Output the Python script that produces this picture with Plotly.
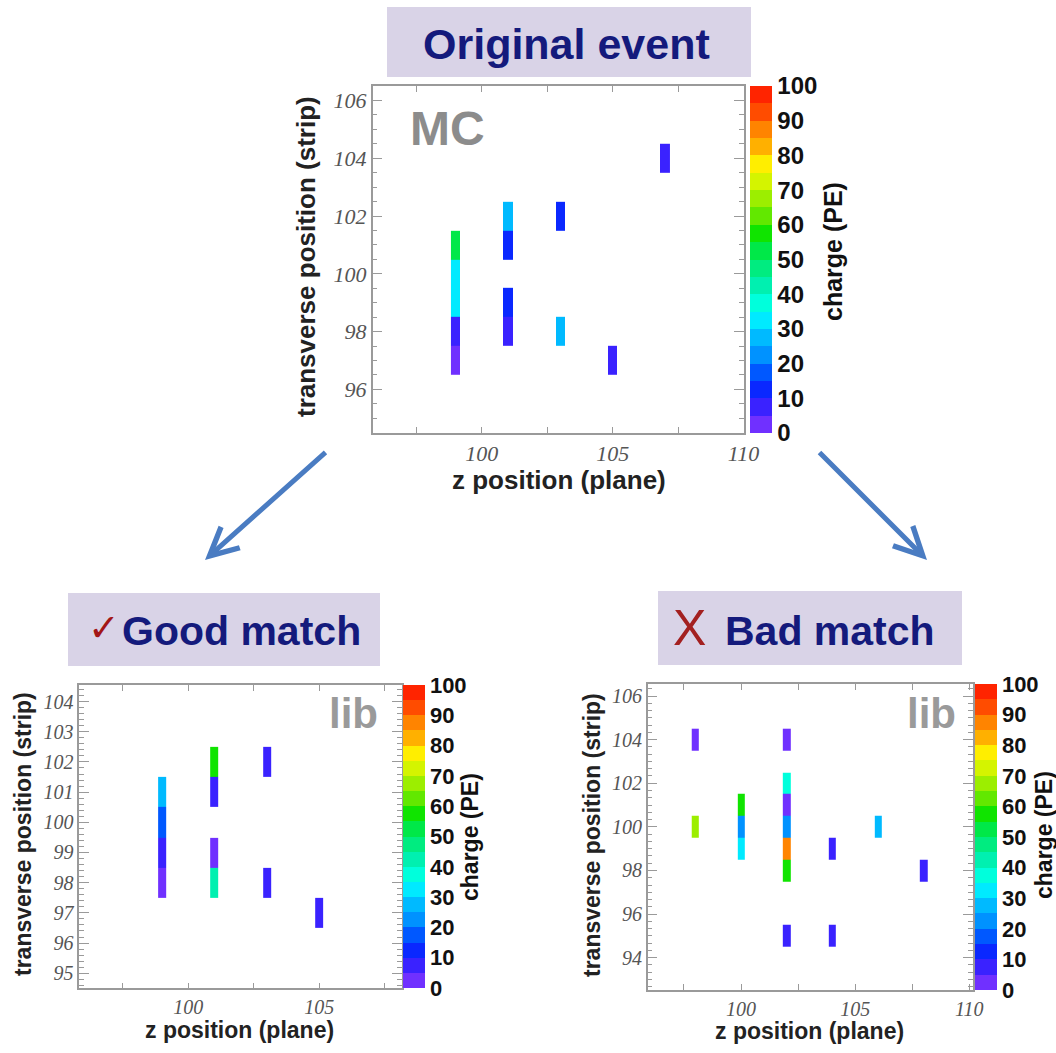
import numpy as np
import plotly.graph_objects as go

W, H = 1056, 1053

# ---- event data: (plane, strip, charge in PE) ----
mc_plane = [99, 99, 99, 99, 99, 101, 101, 101, 101, 103, 103, 105, 107]
mc_strip = [101, 100, 99, 98, 97, 102, 101, 99, 98, 102, 98, 97, 104]
mc_charge = [55, 32, 32, 7, 3, 27, 13, 13, 7, 14, 27, 7, 7]

good_plane = [99, 99, 99, 99, 101, 101, 101, 101, 103, 103, 105]
good_strip = [101, 100, 99, 98, 102, 101, 99, 98, 102, 98, 97]
good_charge = [27, 17, 8, 3, 57, 8, 3, 43, 8, 8, 8]

bad_plane = [98, 98, 100, 100, 100, 102, 102, 102, 102, 102, 102, 102, 104, 104, 106, 108]
bad_strip = [104, 100, 101, 100, 99, 104, 102, 101, 100, 99, 98, 95, 99, 95, 100, 98]
bad_charge = [3, 68, 57, 22, 33, 3, 38, 3, 22, 87, 56, 8, 8, 8, 27, 8]

charge_ticks = list(range(0, 101, 10))

# ROOT-like rainbow palette, 20 contour levels over 0..100 PE
palette = ["#7030ff", "#3a22ff", "#0a28ff", "#0058ff", "#0092ff",
           "#00baff", "#00eaff", "#00ffdc", "#00f0b0", "#00ec80",
           "#00e848", "#10e400", "#62e800", "#9cee00", "#d4f400",
           "#ffee00", "#ffb000", "#ff8400", "#ff4c00", "#ff2400"]
colorscale = []
for i, c in enumerate(palette):
    colorscale.append([i / 20, c])
    colorscale.append([(i + 1) / 20, c])


def px_x(px):
    return px / W


def px_y(py):
    return 1 - py / H


def cell_grid(planes, strips, charges, width):
    """Build bin edges and a charge matrix for one event display."""
    up = sorted(set(planes))
    xe = []
    for p in up:
        xe += [p - width / 2, p + width / 2]
    s_lo, s_hi = min(strips), max(strips)
    ye = [s - 0.5 for s in range(s_lo, s_hi + 2)]
    z = np.full((s_hi - s_lo + 1, 2 * len(up) - 1), np.nan)
    for p, s, q in zip(planes, strips, charges):
        z[s - s_lo, 2 * up.index(p)] = q
    return xe, ye, z


fig = go.Figure()

panels = [
    # name, data, x domain(px), y domain(px), xrange, yrange, y dtick, y minor, cbar(x, top, bottom), sizes
    dict(key="", data=(mc_plane, mc_strip, mc_charge), xd=(372.7, 743.5), yd=(86, 432.7),
         xr=[95.83, 110], yr=[94.5, 106.5], ydt=2, ymin=0.5, cb=(750, 86, 433),
         tick=22, cbt=24, w=0.36),
    dict(key="2", data=(good_plane, good_strip, good_charge), xd=(79.3, 401.7), yd=(685, 988.3),
         xr=[95.84, 108.15], yr=[94.5, 104.55], ydt=1, ymin=0.2, cb=(403, 685, 988),
         tick=20, cbt=22, w=0.3),
    dict(key="3", data=(bad_plane, bad_strip, bad_charge), xd=(647.7, 972.7), yd=(684, 990),
         xr=[95.91, 110.15], yr=[92.52, 106.55], ydt=2, ymin=1 / 3, cb=(975, 684, 990),
         tick=20, cbt=22, w=0.32),
]

frame_col = "#9a9a9a"
tick_font = dict(family="Liberation Serif", style="italic", color="#555555")

layout_axes = {}
for pn in panels:
    k = pn["key"]
    xe, ye, z = cell_grid(*pn["data"], pn["w"])
    cbx, cbt, cbb = pn["cb"]
    fig.add_trace(go.Heatmap(
        x=xe, y=ye, z=z, zmin=0, zmax=100, colorscale=colorscale,
        zsmooth=False, hoverinfo="skip",
        xaxis="x" + k, yaxis="y" + k,
        colorbar=dict(
            x=px_x(cbx), xanchor="left", xpad=0, thickness=22,
            y=px_y(cbt), yanchor="top", ypad=0, len=(cbb - cbt) / H, lenmode="fraction",
            outlinewidth=0, ticks="", tickmode="array", tickvals=charge_ticks,
            tickfont=dict(family="Liberation Sans", size=pn["cbt"], color="#111111", weight="bold"),
        ),
    ))
    common = dict(showgrid=False, zeroline=False, showline=True, linecolor=frame_col,
                  linewidth=1.5, mirror="allticks", ticks="inside", tickcolor=frame_col,
                  tickwidth=1.2, tickfont=dict(size=pn["tick"], **tick_font))
    layout_axes["xaxis" + k] = dict(
        domain=[px_x(pn["xd"][0]), px_x(pn["xd"][1])], range=pn["xr"],
        anchor="y" + k, tickmode="array", tickvals=[100, 105, 110], ticklen=6,
        minor=dict(tickmode="linear", tick0=0, dtick=2.5, ticks="inside", ticklen=6,
                   tickcolor=frame_col),
        **common)
    layout_axes["yaxis" + k] = dict(
        domain=[px_y(pn["yd"][1]), px_y(pn["yd"][0])], range=pn["yr"],
        anchor="x" + k, tickmode="linear", tick0=0, dtick=pn["ydt"], ticklen=10,
        minor=dict(tickmode="linear", tick0=0, dtick=pn["ymin"], ticks="inside", ticklen=5,
                   tickcolor=frame_col),
        **common)

fig.update_layout(**layout_axes)

annotations = []
shapes = []


def text(x, y, s, size, color="#222222", bold=True, angle=0, family="Liberation Sans",
         xanchor="center"):
    annotations.append(dict(
        x=px_x(x), y=px_y(y), xref="paper", yref="paper", text=s, showarrow=False,
        textangle=angle, xanchor=xanchor, yanchor="middle",
        font=dict(family=family, size=size, color=color, weight="bold" if bold else "normal"),
    ))


# axis titles
text(306, 257, "transverse position (strip)", 26, angle=-90)
text(559, 480, "z position (plane)", 26)
text(23, 834, "transverse position (strip)", 23, angle=-90)
text(239, 1030, "z position (plane)", 23)
text(592, 835, "transverse position (strip)", 23, angle=-90)
text(809, 1031, "z position (plane)", 23)

# colour bar titles
text(833, 252, "charge (PE)", 25, color="#111111", angle=-90)
text(470, 837, "charge (PE)", 23, color="#111111", angle=-90)
text(1044, 835, "charge (PE)", 23, color="#111111", angle=-90)

# sample labels inside the frames
text(408, 128, "MC", 48, color="#8c8c8c", xanchor="left")
text(327, 713, "lib", 42, color="#9a9a9a", xanchor="left")
text(905, 713, "lib", 42, color="#9a9a9a", xanchor="left")

# header boxes
box_fill = "#d9d3e7"
for x0, y0, x1, y1 in [(387, 7, 751, 77), (68, 593, 380, 666), (658, 591, 962, 665)]:
    shapes.append(dict(type="rect", xref="paper", yref="paper",
                       x0=px_x(x0), x1=px_x(x1), y0=px_y(y1), y1=px_y(y0),
                       fillcolor=box_fill, line=dict(width=0), layer="below"))

navy = "#141a7c"
text(566, 44, "Original event", 43, color=navy)
text(241, 631, "Good match", 41, color=navy)
text(830, 631, "Bad match", 41, color=navy)
text(104, 628, "✓", 38, color="#a31616", bold=False, family="DejaVu Sans")
text(689, 628, "X", 50, color="#a32020", bold=False)

# arrows from the original event to the two library candidates
arrow_col = "#4a7cc2"
for tail, tip in [((327, 451), (205, 560)), ((818, 451), (927, 560))]:
    annotations.append(dict(
        x=px_x(tip[0]), y=px_y(tip[1]), xref="paper", yref="paper",
        ax=tail[0] - tip[0], ay=tail[1] - tip[1], axref="pixel", ayref="pixel",
        showarrow=True, arrowhead=5, arrowsize=1.1, arrowwidth=5, arrowcolor=arrow_col,
        text="",
    ))

fig.update_layout(
    template="none",
    width=W, height=H,
    margin=dict(l=0, r=0, t=0, b=0),
    paper_bgcolor="white", plot_bgcolor="white",
    showlegend=False,
    annotations=annotations,
    shapes=shapes,
)

fig.write_html("out.html")
